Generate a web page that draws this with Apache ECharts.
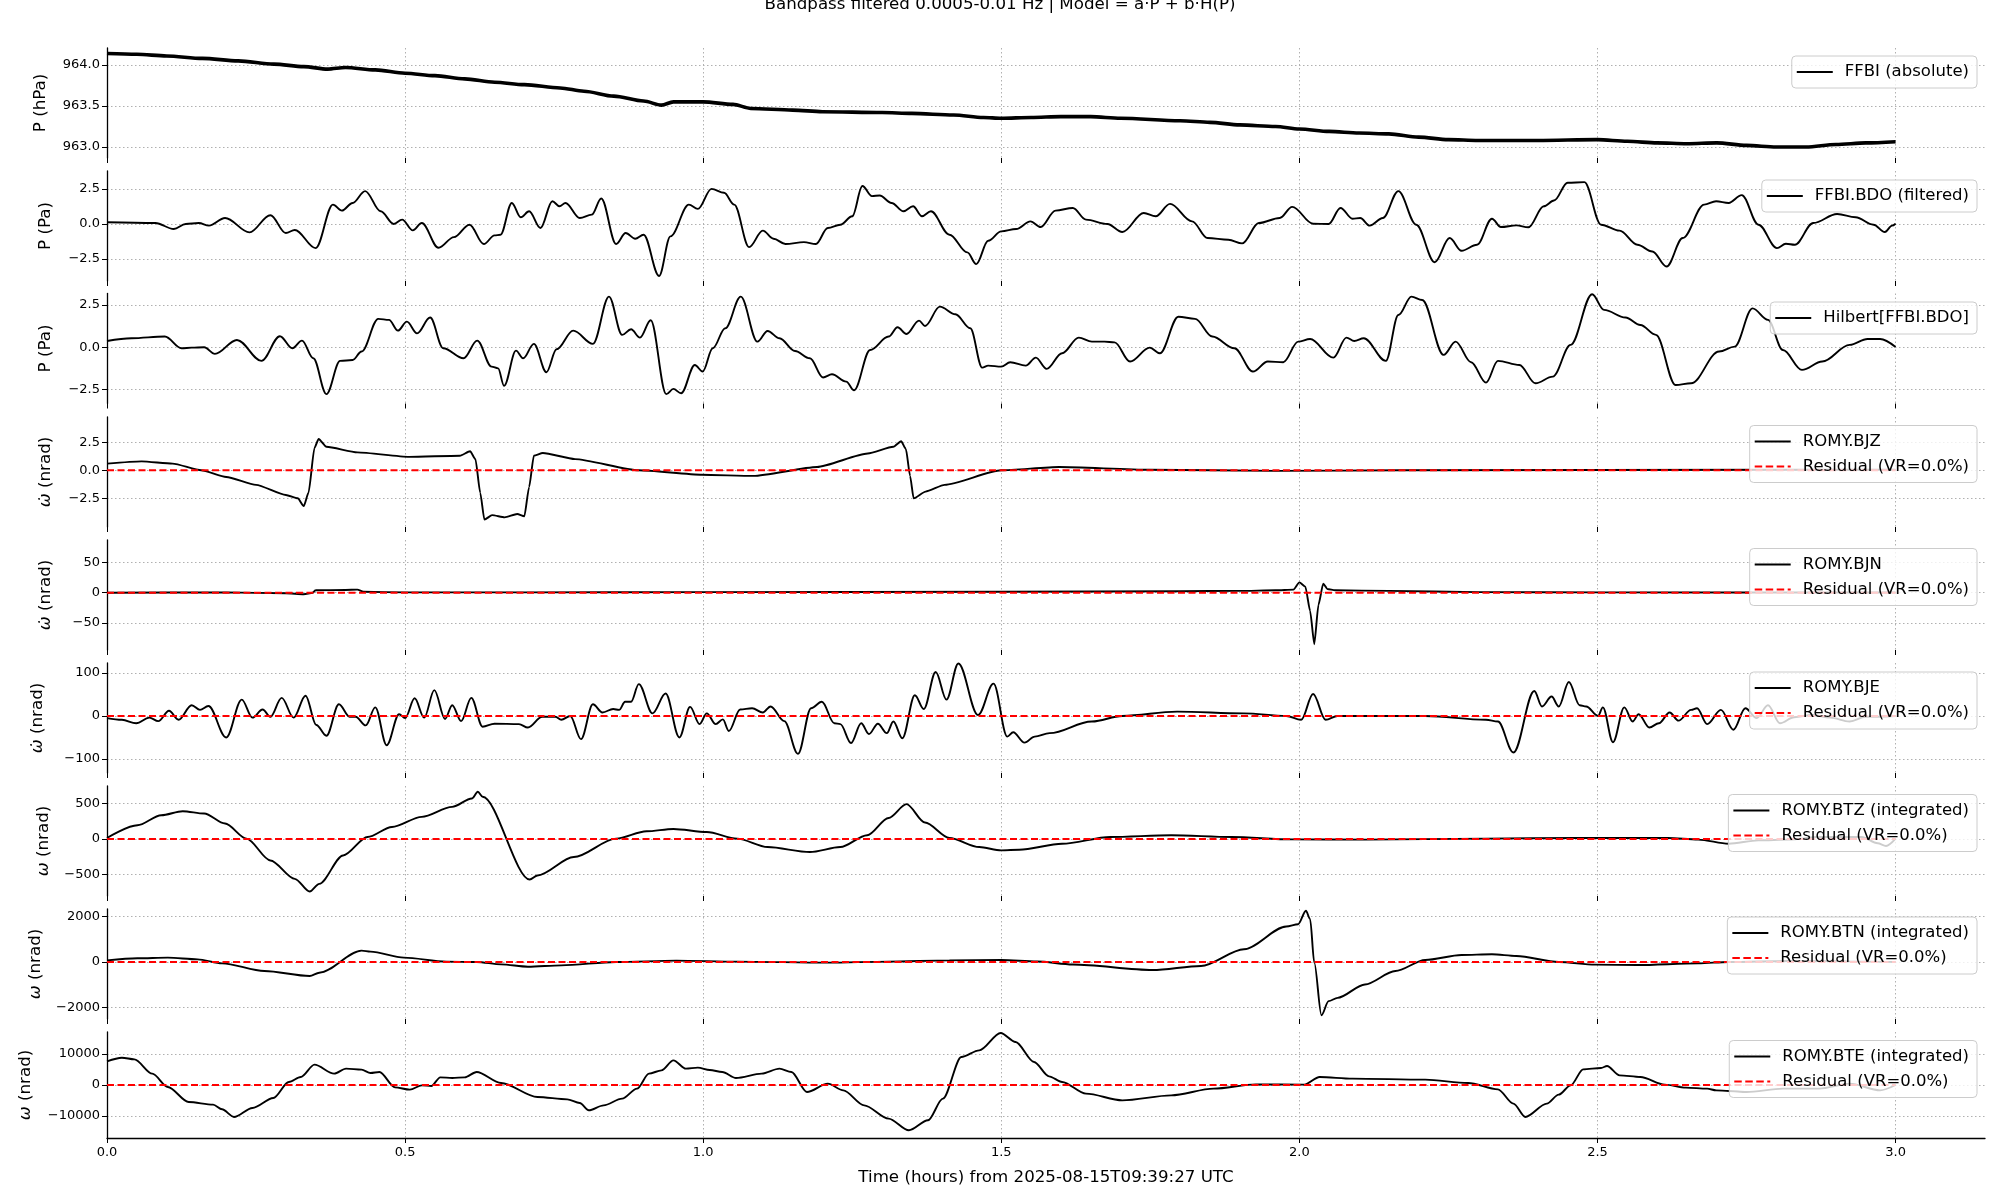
<!DOCTYPE html>
<html><head><meta charset="utf-8">
<script src="https://cdn.jsdelivr.net/npm/echarts@6.0.0/dist/echarts.min.js"></script>
<style>html,body{margin:0;padding:0;background:#fff}#c{width:2000px;height:1200px}</style>
</head><body><div id="c"></div>
<script>
// ---------------- DATA (time in hours, value) ----------------
const xTicks = [0, 0.5, 1.0, 1.5, 2.0, 2.5, 3.0];
const yTicksP1 = [963.0, 963.5, 964.0];
const yTicksP2 = [-2.5, 0, 2.5];
const yTicksP3 = [-2.5, 0, 2.5];
const yTicksP4 = [-2.5, 0, 2.5];
const yTicksP5 = [-50, 0, 50];
const yTicksP6 = [-100, 0, 100];
const yTicksP7 = [-500, 0, 500];
const yTicksP8 = [-2000, 0, 2000];
const yTicksP9 = [-10000, 0, 10000];

const ffbiAbs = [[0,964.14],[0.05,964.13],[0.1,964.11],[0.16,964.08],[0.22,964.05],[0.28,964.01],[0.33,963.98],[0.37,963.95],[0.4,963.97],[0.45,963.94],[0.5,963.90],[0.55,963.87],[0.6,963.83],[0.65,963.79],[0.7,963.76],[0.76,963.72],[0.8,963.68],[0.85,963.62],[0.9,963.56],[0.93,963.51],[0.95,963.55],[1.0,963.55],[1.05,963.52],[1.08,963.47],[1.15,963.45],[1.2,963.43],[1.3,963.42],[1.35,963.41],[1.42,963.39],[1.47,963.36],[1.5,963.35],[1.55,963.36],[1.6,963.37],[1.65,963.37],[1.7,963.35],[1.8,963.32],[1.85,963.30],[1.9,963.27],[1.96,963.25],[2.0,963.22],[2.05,963.19],[2.1,963.17],[2.15,963.16],[2.2,963.12],[2.25,963.09],[2.3,963.08],[2.4,963.08],[2.5,963.09],[2.55,963.07],[2.6,963.05],[2.65,963.04],[2.7,963.05],[2.75,963.02],[2.8,963.0],[2.85,963.0],[2.9,963.03],[2.95,963.05],[3.0,963.065]];

const bdoFiltered = [[0,0.12],[0.081,0.07],[0.112,-0.36],[0.132,0],[0.154,0.07],[0.171,-0.12],[0.198,0.43],[0.239,-0.6],[0.274,0.63],[0.3,-0.65],[0.315,-0.43],[0.35,-1.73],[0.379,1.39],[0.394,0.96],[0.412,1.51],[0.433,2.36],[0.459,0.91],[0.481,0],[0.495,0.31],[0.513,-0.46],[0.528,0.07],[0.556,-1.71],[0.582,-0.94],[0.608,-0.05],[0.632,-1.44],[0.65,-0.82],[0.66,-0.77],[0.679,1.51],[0.694,0.48],[0.708,0.91],[0.727,-0.29],[0.747,1.63],[0.759,1.27],[0.769,1.51],[0.793,0.43],[0.813,0.67],[0.829,1.83],[0.854,-1.44],[0.87,-0.65],[0.886,-1.06],[0.9,-0.77],[0.926,-3.73],[0.945,-0.89],[0.976,1.39],[0.991,1.08],[1.014,2.52],[1.035,2.24],[1.052,1.39],[1.077,-1.66],[1.1,-0.48],[1.118,-1.06],[1.138,-1.44],[1.169,-1.3],[1.189,-1.44],[1.209,-0.29],[1.23,-0.05],[1.25,0.55],[1.267,2.72],[1.283,2.0],[1.296,2.04],[1.316,1.51],[1.336,0.91],[1.352,1.27],[1.367,0.55],[1.382,0.91],[1.413,-0.77],[1.443,-2.04],[1.458,-2.88],[1.478,-1.2],[1.5,-0.53],[1.525,-0.36],[1.549,0.19],[1.566,-0.22],[1.591,0.96],[1.62,1.15],[1.642,0.31],[1.678,0],[1.703,-0.58],[1.739,0.79],[1.759,0.55],[1.783,1.44],[1.82,0.19],[1.846,-1.01],[1.881,-1.13],[1.904,-1.39],[1.932,0.07],[1.967,0.43],[1.988,1.23],[2.023,0.02],[2.049,0],[2.069,1.15],[2.089,0.38],[2.102,0.43],[2.118,-0.12],[2.14,0.43],[2.166,2.36],[2.196,-0.05],[2.227,-2.74],[2.252,-1.01],[2.272,-1.92],[2.298,-1.49],[2.323,0.38],[2.338,-0.22],[2.364,-0.1],[2.384,-0.24],[2.41,1.27],[2.427,1.68],[2.45,2.96],[2.478,3.0],[2.506,-0.05],[2.537,-0.48],[2.567,-1.49],[2.592,-1.97],[2.616,-3.05],[2.643,-1.01],[2.679,1.39],[2.699,1.63],[2.72,1.51],[2.742,2.07],[2.77,-0.05],[2.801,-1.73],[2.816,-1.42],[2.831,-1.49],[2.862,0.07],[2.902,0.72],[2.933,0.48],[2.963,-0.05],[2.982,-0.58],[2.994,-0.12],[3.0,0.02]];

const bdoHilbert = [[0,0.37],[0.041,0.53],[0.097,0.63],[0.125,-0.06],[0.142,-0.02],[0.163,0],[0.181,-0.39],[0.218,0.43],[0.259,-0.8],[0.29,0.65],[0.311,-0.06],[0.327,0.39],[0.346,-0.65],[0.368,-2.76],[0.391,-0.8],[0.412,-0.75],[0.427,-0.25],[0.455,1.67],[0.473,1.61],[0.488,0.98],[0.503,1.51],[0.52,0.82],[0.542,1.75],[0.564,-0.06],[0.598,-0.65],[0.621,0.39],[0.645,-1.14],[0.656,-1.24],[0.666,-2.27],[0.686,-0.2],[0.698,-0.65],[0.716,0.2],[0.737,-1.47],[0.754,-0.12],[0.782,0.98],[0.815,0.2],[0.842,2.98],[0.864,0.73],[0.879,1.06],[0.894,0.57],[0.912,1.59],[0.938,-2.76],[0.95,-2.45],[0.963,-2.71],[0.986,-1.04],[0.999,-1.43],[1.016,-0.06],[1.037,1.12],[1.063,2.98],[1.091,0.33],[1.108,0.96],[1.128,0.53],[1.154,-0.22],[1.179,-0.65],[1.201,-1.78],[1.216,-1.59],[1.24,-2.02],[1.253,-2.53],[1.28,-0.16],[1.311,0.63],[1.326,1.18],[1.341,0.78],[1.362,1.57],[1.372,1.25],[1.397,2.39],[1.423,1.94],[1.448,1.12],[1.468,-1.2],[1.478,-1.08],[1.5,-1.14],[1.515,-0.88],[1.541,-1.08],[1.558,-0.61],[1.576,-1.27],[1.602,-0.35],[1.63,0.57],[1.652,0.33],[1.673,0.33],[1.69,0.29],[1.716,-0.84],[1.749,-0.02],[1.766,-0.35],[1.797,1.8],[1.825,1.67],[1.854,0.63],[1.891,-0.06],[1.922,-1.43],[1.947,-0.84],[1.973,-0.88],[1.998,0.33],[2.018,0.49],[2.057,-0.61],[2.079,0.57],[2.092,0.37],[2.108,0.53],[2.145,-0.8],[2.166,1.9],[2.188,2.98],[2.206,2.78],[2.242,-0.45],[2.262,0.33],[2.288,-0.88],[2.313,-2.08],[2.333,-0.8],[2.369,-1.04],[2.396,-2.12],[2.425,-1.73],[2.455,0.14],[2.491,3.12],[2.511,2.2],[2.547,1.75],[2.572,1.31],[2.598,0.73],[2.631,-2.22],[2.657,-2.12],[2.704,-0.25],[2.73,0.04],[2.76,2.29],[2.786,1.61],[2.811,-0.16],[2.843,-1.33],[2.877,-0.84],[2.923,0.14],[2.953,0.49],[2.974,0.49],[3.0,0.02]];

const romyBJZ = [[0,0.6],[0.058,0.8],[0.11,0.6],[0.158,0.0],[0.2,-0.6],[0.25,-1.3],[0.3,-2.2],[0.32,-2.5],[0.33,-3.2],[0.338,-2.0],[0.348,2.0],[0.355,2.8],[0.368,2.1],[0.42,1.6],[0.507,1.2],[0.592,1.3],[0.609,1.7],[0.618,1.0],[0.626,-2.0],[0.633,-4.4],[0.646,-4.0],[0.667,-4.2],[0.688,-3.9],[0.7,-4.1],[0.708,-1.5],[0.716,1.3],[0.731,1.55],[0.785,1.0],[0.892,0],[0.998,-0.4],[1.084,-0.5],[1.191,0.3],[1.276,1.5],[1.319,2.1],[1.332,2.6],[1.34,1.9],[1.347,-0.5],[1.353,-2.5],[1.373,-1.9],[1.405,-1.3],[1.5,0],[1.597,0.3],[1.747,0.05],[1.96,-0.05],[2.17,0],[2.82,0.05],[3.0,0.05]];

const romyBJN = [[0,0],[0.2,0.5],[0.3,-1],[0.33,-2.5],[0.345,0],[0.35,4],[0.4,4.5],[0.42,5],[0.43,1.5],[0.5,0.5],[0.7,0.5],[1.0,1],[1.5,1.5],[1.8,2.5],[1.9,3],[1.96,4],[1.99,5],[2.0,17],[2.01,10],[2.018,-30],[2.025,-85],[2.032,-20],[2.04,15],[2.047,6],[2.06,4],[2.15,3],[2.3,1],[2.5,0.5],[3.0,0.3]];

const romyBJE = [[0,-5],[0.025,-9],[0.049,-17],[0.071,-4],[0.086,-12],[0.104,12],[0.12,-9],[0.142,25],[0.156,14],[0.17,23],[0.2,-50],[0.226,38],[0.244,-4],[0.261,15],[0.274,-2],[0.293,42],[0.313,-4],[0.333,47],[0.351,-21],[0.368,-46],[0.389,27],[0.407,-2],[0.417,-2],[0.434,-22],[0.45,20],[0.469,-68],[0.49,4],[0.5,-5],[0.516,41],[0.532,-4],[0.549,60],[0.567,-7],[0.579,25],[0.594,-12],[0.611,42],[0.63,-25],[0.65,-18],[0.691,-19],[0.706,-27],[0.73,-2],[0.752,-2],[0.762,-9],[0.777,0],[0.795,-54],[0.815,27],[0.831,8],[0.849,16],[0.859,14],[0.869,33],[0.879,33],[0.892,74],[0.915,6],[0.937,52],[0.96,-50],[0.978,21],[0.994,-19],[1.006,6],[1.021,-19],[1.033,-8],[1.043,-35],[1.062,15],[1.082,18],[1.1,8],[1.113,22],[1.136,-12],[1.159,-88],[1.181,18],[1.199,33],[1.22,-17],[1.23,-19],[1.248,-63],[1.265,-17],[1.278,-42],[1.293,-18],[1.308,-40],[1.319,-13],[1.334,-52],[1.355,48],[1.37,16],[1.39,102],[1.408,38],[1.428,122],[1.461,2],[1.487,75],[1.51,-48],[1.52,-38],[1.539,-62],[1.556,-48],[1.581,-40],[1.652,-13],[1.703,0],[1.795,10],[1.907,6],[1.978,0],[2.003,-9],[2.023,51],[2.044,-9],[2.064,0],[2.211,0],[2.313,-9],[2.333,-13],[2.359,-85],[2.394,58],[2.407,22],[2.423,45],[2.435,22],[2.452,79],[2.47,25],[2.481,22],[2.501,0],[2.509,20],[2.526,-61],[2.545,20],[2.559,-13],[2.569,4],[2.587,-27],[2.603,-17],[2.621,8],[2.636,-11],[2.657,14],[2.667,18],[2.684,-19],[2.707,14],[2.728,-32],[2.748,18],[2.767,-5],[2.786,25],[2.806,-17],[2.83,-3],[2.86,2],[2.89,-4],[2.923,-13],[2.95,-2],[3.0,0]];

const romyBTZ = [[0,14],[0.051,192],[0.091,333],[0.127,389],[0.163,356],[0.198,216],[0.234,5],[0.274,-300],[0.315,-558],[0.34,-736],[0.356,-628],[0.396,-230],[0.437,28],[0.478,169],[0.528,310],[0.579,450],[0.612,567],[0.622,661],[0.63,591],[0.709,-567],[0.722,-511],[0.783,-253],[0.854,5],[0.905,108],[0.95,141],[1.006,98],[1.057,5],[1.108,-113],[1.179,-183],[1.23,-113],[1.275,52],[1.311,295],[1.341,488],[1.372,230],[1.413,14],[1.463,-113],[1.5,-159],[1.53,-150],[1.602,-66],[1.683,28],[1.785,52],[1.886,28],[1.988,-5],[2.11,-9],[2.313,5],[2.465,14],[2.618,14],[2.669,-9],[2.72,-66],[2.77,-19],[2.821,-9],[2.872,28],[2.943,28],[2.97,-60],[2.984,-98],[3.0,5]];

const romyBTN = [[0,73],[0.051,161],[0.102,190],[0.152,117],[0.193,-59],[0.264,-396],[0.34,-615],[0.356,-469],[0.427,498],[0.442,454],[0.498,190],[0.569,15],[0.62,0],[0.661,-103],[0.706,-205],[0.762,-146],[0.854,0],[0.955,59],[1.057,15],[1.209,-29],[1.311,15],[1.413,73],[1.5,88],[1.56,20],[1.62,-110],[1.754,-352],[1.835,-176],[1.907,557],[1.978,1553],[1.998,1655],[2.011,2241],[2.018,1875],[2.025,-29],[2.037,-2329],[2.049,-1714],[2.064,-1568],[2.11,-982],[2.161,-396],[2.211,88],[2.272,308],[2.323,337],[2.364,264],[2.435,0],[2.496,-117],[2.567,-132],[2.669,-59],[2.72,0],[2.821,44],[2.923,29],[3.0,0]];

const romyBTE = [[0,7633],[0.025,8815],[0.046,8278],[0.076,3655],[0.102,-645],[0.137,-5483],[0.178,-6343],[0.193,-7848],[0.213,-10320],[0.244,-7418],[0.279,-4193],[0.305,968],[0.325,2580],[0.348,6558],[0.381,3655],[0.401,5268],[0.427,4945],[0.442,3870],[0.457,4193],[0.483,-753],[0.508,-1505],[0.528,-108],[0.544,-323],[0.559,2473],[0.579,2258],[0.6,2473],[0.62,4193],[0.661,645],[0.722,-3870],[0.772,-4623],[0.793,-5805],[0.808,-8170],[0.833,-6558],[0.864,-4408],[0.889,-1183],[0.909,3655],[0.93,4730],[0.95,7955],[0.971,5268],[0.991,5590],[1.011,4838],[1.032,4193],[1.055,2258],[1.098,3655],[1.128,5268],[1.148,4193],[1.174,-2258],[1.209,430],[1.235,-1720],[1.27,-6558],[1.311,-10858],[1.345,-14620],[1.377,-11395],[1.402,-4408],[1.433,9030],[1.463,11180],[1.499,16770],[1.524,13868],[1.555,7418],[1.58,2795],[1.602,968],[1.642,-2795],[1.703,-4945],[1.785,-3333],[1.856,-1183],[1.927,215],[2.008,108],[2.034,2580],[2.089,2043],[2.211,1720],[2.283,645],[2.333,-1398],[2.359,-6020],[2.379,-10320],[2.415,-6020],[2.435,-3118],[2.455,-108],[2.476,5053],[2.506,5483],[2.516,6128],[2.537,3118],[2.572,2580],[2.613,108],[2.648,-860],[2.684,-1183],[2.699,-1720],[2.72,-1935],[2.75,-2258],[2.811,-1183],[2.872,-1183],[2.923,430],[2.974,-1720],[3.0,0]];

const residualZero = [[0,0],[3.0,0]];
const residualName = 'Residual (VR=0.0%)';
const titleText = 'Bandpass filtered 0.0005-0.01 Hz | Model = a·P + b·H(P)';
const xName = 'Time (hours) from 2025-08-15T09:39:27 UTC';

// ---------------- LAYOUT ----------------
const FONT = 'DejaVu Sans';
const FS = 16.67;
const W = '{w|ω\u0307} (nrad)';
const WI = '{w|ω} (nrad)';
const ICON_SOLID = 'rect';
const ICON_DASH = 'path://M0,0h7.5v2h-7.5z M11,0h7.5v2h-7.5z M22,0h7.5v2h-7.5z M33,0h3v2h-3z';
const panels = [
  {top:48,  h:110, min:962.866, max:964.207, ticks:yTicksP1, dec:1, name:'P (hPa)', gap:58, lTop:56,   main:'FFBI (absolute)', data:ffbiAbs, lw:3.6, smooth:0.3, resid:false},
  {top:171, h:110, min:-4.09,  max:3.80,  ticks:yTicksP2, dec:1, name:'P (Pa)',  gap:53, lTop:180,  main:'FFBI.BDO (filtered)', data:bdoFiltered, lw:1.9, smooth:0.35, resid:false},
  {top:293.5,h:110,min:-3.31,  max:3.165, ticks:yTicksP3, dec:1, name:'P (Pa)',  gap:53, lTop:302,  main:'Hilbert[FFBI.BDO]', data:bdoHilbert, lw:1.9, smooth:0.35, resid:false},
  {top:417, h:110, min:-5.06,  max:4.76,  ticks:yTicksP4, dec:1, name:W,  gap:53, lTop:425.5, main:'ROMY.BJZ', data:romyBJZ, lw:1.9, smooth:0.2, resid:true},
  {top:540, h:110, min:-94.6,  max:87,    ticks:yTicksP5, dec:0, name:W,  gap:53, lTop:548.5, main:'ROMY.BJN', data:romyBJN, lw:1.9, smooth:0.2, resid:true},
  {top:663, h:110, min:-132.6, max:123,   ticks:yTicksP6, dec:0, name:W,  gap:61, lTop:672,   main:'ROMY.BJE', data:romyBJE, lw:1.9, smooth:0.35, resid:true},
  {top:786, h:110, min:-798,   max:742,   ticks:yTicksP7, dec:0, name:WI, gap:55, lTop:794.5, main:'ROMY.BTZ (integrated)', data:romyBTZ, lw:1.9, smooth:0.3, resid:true},
  {top:909, h:110, min:-2494,  max:2319,  ticks:yTicksP8, dec:0, name:WI, gap:63, lTop:917,   main:'ROMY.BTN (integrated)', data:romyBTN, lw:1.9, smooth:0.3, resid:true},
  {top:1032,h:106, min:-17100, max:17100, ticks:yTicksP9, dec:0, name:WI, gap:73, lTop:1040.5, main:'ROMY.BTE (integrated)', data:romyBTE, lw:1.9, smooth:0.3, resid:true}
];

const fmtNum = (v, dec) => (dec ? v.toFixed(dec) : String(Math.round(v))).replace('-', '\u2212');

const grids = [], xAxes = [], yAxes = [], series = [], legends = [];
const gridLine = {show:true, lineStyle:{color:'#b0b0b0', width:1, type:[1.5,2.5]}};
panels.forEach((p, i) => {
  const last = i === panels.length - 1;
  grids.push({left:107, right:15, top:p.top, height:p.h, containLabel:false});
  xAxes.push({
    type:'value', gridIndex:i, min:0, max:3.15,
    axisLine:{show:last, onZero:false, lineStyle:{color:'#000', width:1.3}},
    axisTick:{show:true, customValues:xTicks, length:5, lineStyle:{color:'#000', width:1}},
    axisLabel:{show:last, customValues:xTicks, formatter:v=>v.toFixed(1), fontSize:13, color:'#000', fontFamily:FONT, margin:8},
    splitLine:gridLine,
    name: last ? xName : '', nameLocation:'middle', nameGap:31,
    nameTextStyle:{fontSize:FS, color:'#000', fontFamily:FONT}
  });
  yAxes.push({
    type:'value', gridIndex:i, min:p.min, max:p.max,
    axisLine:{show:true, onZero:false, lineStyle:{color:'#000', width:1.3}},
    axisTick:{show:true, customValues:p.ticks, length:5, lineStyle:{color:'#000', width:1}},
    axisLabel:{customValues:p.ticks, formatter:v=>fmtNum(v, p.dec), fontSize:13, color:'#000', fontFamily:FONT, margin:7},
    splitLine:gridLine,
    name:p.name, nameLocation:'middle', nameGap:p.gap, nameRotate:90,
    nameTextStyle:{fontSize:FS, color:'#000', fontFamily:FONT, rich:{w:{fontSize:FS, fontStyle:'italic', fontFamily:FONT, color:'#000'}}}
  });
  series.push({
    name:p.main, type:'line', xAxisIndex:i, yAxisIndex:i, data:p.data,
    symbol:'none', showSymbol:false, smooth:p.smooth, smoothMonotone:'x',
    lineStyle:{color:'#000', width:p.lw}, itemStyle:{color:'#000'}, z:2, silent:true
  });
  const ld = [{name:p.main, icon:ICON_SOLID, itemStyle:{color:'#000'}}];
  if (p.resid) {
    series.push({
      name:residualName, type:'line', xAxisIndex:i, yAxisIndex:i, data:residualZero,
      symbol:'none', showSymbol:false,
      lineStyle:{color:'#ff0000', width:2, type:[7,3.5]}, itemStyle:{color:'#ff0000'}, z:3, silent:true
    });
    ld.push({name:residualName, icon:ICON_DASH, itemStyle:{color:'#ff0000'}});
  }
  legends.push({
    data:ld, top:p.lTop, right:23, orient:'vertical', align:'left',
    itemWidth:36, itemHeight:2, itemGap:7, padding:[7,8,7,5],
    backgroundColor:'rgba(255,255,255,0.8)', borderColor:'#cccccc', borderWidth:1, borderRadius:4,
    selectedMode:false,
    textStyle:{fontSize:16.5, color:'#000', fontFamily:FONT, lineHeight:18, padding:[0,0,0,7]}
  });
});

const chart = echarts.init(document.getElementById('c'), null, {renderer:'canvas', width:2000, height:1200});
chart.setOption({
  animation:false,
  backgroundColor:'#fff',
  title:{text:titleText, left:'center', top:-9, textStyle:{fontSize:FS, fontWeight:'normal', color:'#000', fontFamily:FONT}},
  grid:grids, xAxis:xAxes, yAxis:yAxes, legend:legends, series:series
});
</script></body></html>
